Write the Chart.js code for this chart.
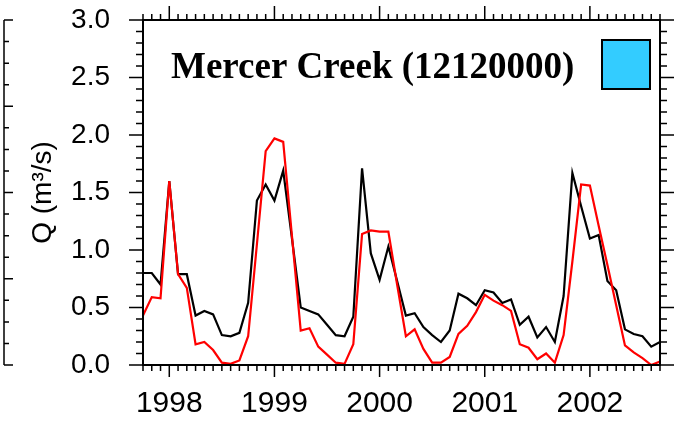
<!DOCTYPE html>
<html>
<head>
<meta charset="utf-8">
<script src="https://cdn.jsdelivr.net/npm/chart.js@4.4.1/dist/chart.umd.min.js"></script>
<style>
  html, body { margin: 0; padding: 0; background: #fff; }
  #wrap { width: 677px; height: 424px; }
</style>
</head>
<body>
<div id="wrap"><canvas id="flowChart"></canvas></div>
<script>
// monthly mean discharge, water years 1998-2002
const months = [
  '1997-10', '1997-11', '1997-12', '1998-01', '1998-02', '1998-03', '1998-04', '1998-05', '1998-06', '1998-07', '1998-08', '1998-09',
  '1998-10', '1998-11', '1998-12', '1999-01', '1999-02', '1999-03', '1999-04', '1999-05', '1999-06', '1999-07', '1999-08', '1999-09',
  '1999-10', '1999-11', '1999-12', '2000-01', '2000-02', '2000-03', '2000-04', '2000-05', '2000-06', '2000-07', '2000-08', '2000-09',
  '2000-10', '2000-11', '2000-12', '2001-01', '2001-02', '2001-03', '2001-04', '2001-05', '2001-06', '2001-07', '2001-08', '2001-09',
  '2001-10', '2001-11', '2001-12', '2002-01', '2002-02', '2002-03', '2002-04', '2002-05', '2002-06', '2002-07', '2002-08', '2002-09'
];
const observed = [
  0.80, 0.80, 0.70, 1.60, 0.79, 0.79, 0.43, 0.47, 0.44, 0.26, 0.25, 0.28,
  0.54, 1.43, 1.57, 1.43, 1.69, 1.10, 0.50, 0.47, 0.44, 0.35, 0.26, 0.25,
  0.42, 1.71, 0.97, 0.74, 1.03, 0.73, 0.43, 0.45, 0.33, 0.26, 0.20, 0.30,
  0.62, 0.58, 0.52, 0.65, 0.63, 0.54, 0.57, 0.35, 0.42, 0.24, 0.33, 0.20,
  0.60, 1.67, 1.38, 1.10, 1.13, 0.73, 0.65, 0.31, 0.27, 0.25, 0.16, 0.20
];
const simulated = [
  0.43, 0.59, 0.58, 1.60, 0.79, 0.67, 0.18, 0.20, 0.13, 0.02, 0.01, 0.04,
  0.25, 1.05, 1.86, 1.97, 1.94, 1.12, 0.30, 0.32, 0.16, 0.09, 0.02, 0.01,
  0.18, 1.14, 1.17, 1.16, 1.16, 0.70, 0.25, 0.31, 0.14, 0.02, 0.02, 0.07,
  0.27, 0.34, 0.46, 0.61, 0.56, 0.52, 0.47, 0.18, 0.15, 0.05, 0.10, 0.02,
  0.26, 0.90, 1.57, 1.56, 1.21, 0.87, 0.52, 0.17, 0.11, 0.06, 0.00, 0.03
];
const yearLabels = ['1998', '1999', '2000', '2001', '2002'];
const gaugeName = 'Mercer Creek (12120000)';
const gaugeColor = '#33ccff';

// box around the plot, outward tick marks on all sides, station label + swatch
const frameTicks = {
  id: 'frameTicks',
  afterDraw(chart) {
    const { ctx, chartArea: a, scales: { x, y } } = chart;
    ctx.save();
    ctx.strokeStyle = '#000';
    ctx.lineWidth = 1.5;
    ctx.beginPath();
    months.forEach((m, i) => {
      const px = x.getPixelForValue(i);
      const major = m.endsWith('-01');
      ctx.moveTo(px, a.bottom); ctx.lineTo(px, a.bottom + (major ? 12 : 6));
      ctx.moveTo(px, a.top); ctx.lineTo(px, a.top - (major ? 14 : 6));
    });
    for (let k = 0; k <= 30; k++) {
      const py = y.getPixelForValue(k / 10);
      const len = k % 5 === 0 ? 14 : 7;
      ctx.moveTo(a.left, py); ctx.lineTo(a.left - len, py);
      ctx.moveTo(a.right, py); ctx.lineTo(a.right + len, py);
    }
    // right edge of the neighbouring panel
    ctx.moveTo(4, a.top); ctx.lineTo(4, a.bottom);
    for (let k = 0; k <= 16; k++) {
      const py = a.top + (a.bottom - a.top) * k / 16;
      ctx.moveTo(4, py); ctx.lineTo(k % 4 === 0 ? 13 : 9, py);
    }
    ctx.stroke();

    ctx.lineWidth = 2;
    ctx.strokeRect(a.left, a.top, a.right - a.left, a.bottom - a.top);

    ctx.fillStyle = '#000';
    ctx.font = 'bold 37px "Liberation Serif"';
    ctx.textAlign = 'left';
    ctx.textBaseline = 'alphabetic';
    ctx.fillText(gaugeName, 171, 78);

    ctx.fillStyle = gaugeColor;
    ctx.fillRect(602, 40, 48, 49);
    ctx.strokeRect(602, 40, 48, 49);
    ctx.restore();
  }
};

new Chart(document.getElementById('flowChart'), {
  type: 'line',
  data: {
    labels: months,
    datasets: [
      { label: 'simulated', data: simulated, borderColor: '#ff0000', borderWidth: 2.2, pointRadius: 0, tension: 0, order: 0 },
      { label: 'observed', data: observed, borderColor: '#000000', borderWidth: 2.2, pointRadius: 0, tension: 0, order: 1 }
    ]
  },
  options: {
    responsive: true,
    maintainAspectRatio: false,
    animation: false,
    layout: { padding: { top: 20, right: 17, left: 0, bottom: 0 } },
    plugins: { legend: { display: false }, tooltip: { enabled: false } },
    scales: {
      x: {
        grid: { display: false, drawTicks: false },
        border: { display: false },
        afterFit(scale) {
          scale.height = 59;
          scale.paddingLeft = 0;
          scale.paddingRight = 0;
        },
        ticks: {
          autoSkip: false,
          maxRotation: 0,
          padding: 21,
          color: '#000',
          font: { family: '"Liberation Sans"', size: 30 },
          callback(val, i) {
            const m = months[i];
            const yr = m.slice(0, 4);
            return m.endsWith('-01') && yearLabels.includes(yr) ? yr : '';
          }
        }
      },
      y: {
        min: 0,
        max: 3,
        grid: { display: false, drawTicks: false },
        border: { display: false },
        afterFit(scale) {
          scale.width = 143;
          scale.paddingTop = 0;
          scale.paddingBottom = 0;
        },
        ticks: {
          stepSize: 0.5,
          padding: 33,
          color: '#000',
          font: { family: '"Liberation Sans"', size: 28 },
          callback: (v) => v.toFixed(1)
        },
        title: {
          display: true,
          text: 'Q (m³/s)',
          color: '#000',
          padding: { top: 26, bottom: 0 },
          font: { family: '"Liberation Sans"', size: 28 }
        }
      }
    }
  },
  plugins: [frameTicks]
});
</script>
</body>
</html>
